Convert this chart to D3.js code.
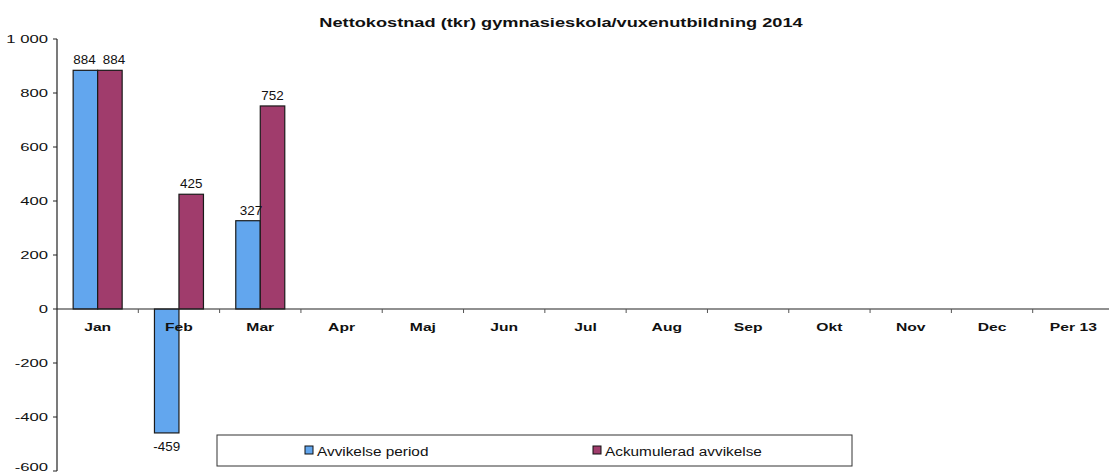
<!DOCTYPE html>
<html><head><meta charset="utf-8">
<script src="https://cdn.jsdelivr.net/npm/d3@7"></script>
<style>body{margin:0;background:#fff;font-family:"Liberation Sans",Arial,sans-serif}</style>
</head><body>
<svg id="c" width="1109" height="475"></svg>
<script>
const categories = ["Jan","Feb","Mar","Apr","Maj","Jun","Jul","Aug","Sep","Okt","Nov","Dec","Per 13"];
const seriesNames = ["Avvikelse period","Ackumulerad avvikelse"];
const avvikelsePeriod = [884,-459,327,null,null,null,null,null,null,null,null,null,null];
const ackumulerad = [884,425,752,null,null,null,null,null,null,null,null,null,null];
const yTicks = [1000,800,600,400,200,0,-200,-400,-600];
const colors = ["#62a6ee","#a03c6c"];
const title = "Nettokostnad (tkr) gymnasieskola/vuxenutbildning 2014";

const svg = d3.select("#c");
const y = d3.scaleLinear().domain([-600,1000]).range([471,39]);
const x = d3.scaleBand().domain(categories).range([57,1114]).paddingInner(0).paddingOuter(0);
const x1 = d3.scaleBand().domain([0,1]).range([0,49]);
const fmt = v => d3.format(",")(v).replace(/,/g," ").replace("\u2212","-");

function stext(g, px, py, str, sx, opts) {
  const t = g.append("text").attr("transform",`translate(${px},${py}) scale(${sx},1)`)
    .attr("font-size",opts.size).attr("fill","#111").attr("text-anchor",opts.anchor||"start").text(str);
  if (opts.bold) t.attr("font-weight","bold");
  return t;
}

stext(svg, 561, 27, title, 1.38, {size:13.2, bold:true, anchor:"middle"});

// y axis
const ya = svg.append("g").attr("transform","translate(57,0)");
ya.append("line").attr("x1",0).attr("x2",0).attr("y1",y(1000)).attr("y2",y(-600)).attr("stroke","#222").attr("stroke-width",1.2);
yTicks.forEach(v=>{
  ya.append("line").attr("x1",-4).attr("x2",0).attr("y1",y(v)).attr("y2",y(v)).attr("stroke","#222");
  stext(ya, -9, Math.min(y(v)+4, 471), fmt(v), 1.45, {size:11.5, anchor:"end"});
});

// bars
const data = [avvikelsePeriod, ackumulerad];
data.forEach((arr,si)=>{
  const pts = categories.map((c,i)=>({c,v:arr[i]})).filter(d=>d.v!=null);
  svg.append("g").selectAll("rect").data(pts)
    .join("rect")
    .attr("x",d=>x(d.c)+x.bandwidth()/2-24.5+x1(si))
    .attr("width",x1.bandwidth())
    .attr("y",d=>y(Math.max(0,d.v)))
    .attr("height",d=>Math.abs(y(d.v)-y(0)))
    .attr("fill",colors[si]).attr("stroke","#1a1a1a").attr("stroke-width",1.2);
});
data.forEach((arr,si)=>{
  const g = svg.append("g");
  categories.forEach((c,i)=>{
    const v = arr[i]; if (v==null) return;
    let cx = x(c)+x.bandwidth()/2-24.5+x1(si)+x1.bandwidth()/2;
    if (c==="Jan") cx += si===0 ? -1 : 4;
    if (c==="Mar" && si===0) cx += 3;
    stext(g, cx, v>=0? y(v)-6 : y(v)+18, fmt(v), 1.12, {size:12, anchor:"middle"});
  });
});

// x axis line & ticks
const xl = svg.append("g").attr("transform",`translate(0,${y(0)})`);
xl.append("line").attr("x1",57).attr("x2",1114).attr("stroke","#222").attr("stroke-width",1.2);
xl.selectAll("line.t").data(categories).join("line").attr("class","t")
  .attr("x1",d=>x(d)+x.bandwidth()).attr("x2",d=>x(d)+x.bandwidth()).attr("y1",0).attr("y2",4).attr("stroke","#555");

// x axis labels
const xa = svg.append("g");
categories.forEach(c=>{
  stext(xa, x(c)+x.bandwidth()/2, y(0)+22, c, 1.4, {size:11.2, bold:true, anchor:"middle"});
});

// legend
const lg = svg.append("g");
lg.append("rect").attr("x",217).attr("y",435).attr("width",635).attr("height",31).attr("fill","#fff").attr("stroke","#333");
const lx = [305,593];
seriesNames.forEach((n,i)=>{
  lg.append("rect").attr("x",lx[i]).attr("y",446).attr("width",8).attr("height",8).attr("fill",colors[i]).attr("stroke","#111");
  stext(lg, lx[i]+12, 456, n, 1.28, {size:12});
});
</script>
</body></html>
